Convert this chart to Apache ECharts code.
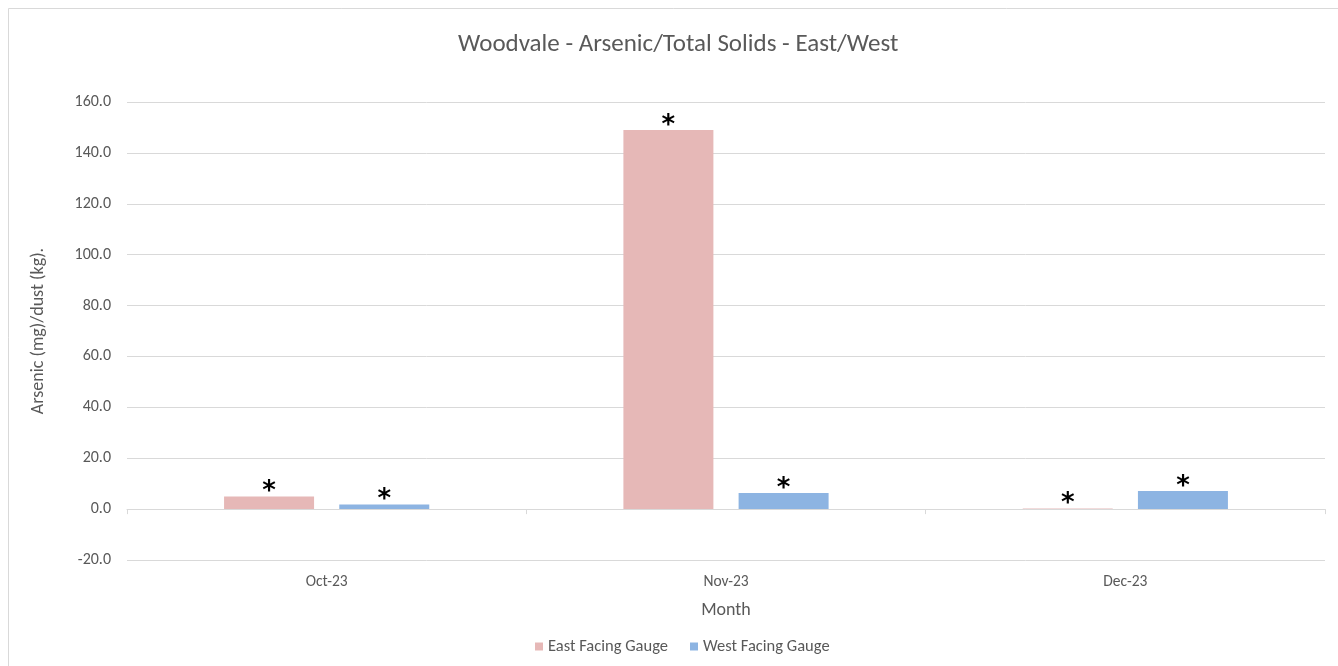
<!DOCTYPE html>
<html>
<head>
<meta charset="utf-8">
<script src="https://cdn.jsdelivr.net/npm/echarts@6/dist/echarts.min.js"></script>
<style>
  html, body { margin: 0; padding: 0; background: #fff; }
  #chart { width: 1338px; height: 666px; }
</style>
</head>
<body>
<div id="chart"></div>
<script>
// Monthly arsenic per dust mass for the two gauges
var months = ['Oct-23', 'Nov-23', 'Dec-23'];
var eastFacing = [5.0, 149.0, 0.2];
var westFacing = [1.8, 6.3, 7.1];
var yTicks = { min: -20, max: 160, interval: 20 };

var FONT = 'Calibri, Carlito, "Open Sans", "Noto Sans", sans-serif';
var chart = echarts.init(document.getElementById('chart'), null, { renderer: 'canvas' });

var starLabel = {
  show: true,
  position: 'top',
  distance: -9,
  formatter: '*',
  color: '#000',
  fontSize: 26,
  fontWeight: 'bold',
  fontFamily: 'DejaVu Sans, sans-serif'
};

chart.setOption({
  backgroundColor: '#fff',
  animation: false,
  graphic: [{
    type: 'rect',
    shape: { x: 8.5, y: 8.5, width: 1340, height: 680 },
    style: { fill: 'none', stroke: '#d9d9d9', lineWidth: 1 },
    silent: true
  }],
  title: {
    text: 'Woodvale - Arsenic/Total Solids - East/West',
    left: 453,
    top: 27,
    textStyle: { fontFamily: FONT, fontSize: 25, fontWeight: 'normal', color: '#595959' }
  },
  legend: {
    bottom: 6,
    left: 530,
    itemWidth: 8,
    itemHeight: 8,
    itemGap: 22,
    icon: 'rect',
    textStyle: { fontFamily: FONT, fontSize: 16.5, color: '#595959' },
    data: ['East Facing Gauge', 'West Facing Gauge']
  },
  grid: { left: 127, right: 13, top: 102, bottom: 106 },
  xAxis: [{
    type: 'category',
    data: months,
    name: 'Month',
    nameLocation: 'middle',
    nameGap: 41,
    nameTextStyle: { fontFamily: FONT, fontSize: 18, color: '#595959' },
    axisLine: { show: false, onZero: false },
    axisTick: { show: false },
    axisLabel: { fontFamily: FONT, fontSize: 15.5, color: '#595959', margin: 14 }
  }, {
    // zero line with category separator ticks
    type: 'category',
    data: months,
    position: 'bottom',
    axisLine: { show: true, onZero: true, lineStyle: { color: '#d9d9d9', width: 1 } },
    axisTick: { show: true, inside: false, length: 5, lineStyle: { color: '#d9d9d9' } },
    axisLabel: { show: false }
  }],
  yAxis: {
    type: 'value',
    min: yTicks.min,
    max: yTicks.max,
    interval: yTicks.interval,
    name: 'Arsenic (mg)/dust (kg).',
    nameLocation: 'middle',
    nameGap: 80,
    nameTextStyle: { fontFamily: FONT, fontSize: 18, color: '#595959' },
    axisLine: { show: false },
    axisTick: { show: false },
    axisLabel: {
      fontFamily: FONT, fontSize: 16, color: '#595959', margin: 16,
      formatter: function (v) { return v.toFixed(1); }
    },
    splitLine: { lineStyle: { color: '#d9d9d9', width: 1 } }
  },
  series: [{
    name: 'East Facing Gauge',
    type: 'bar',
    data: eastFacing,
    barWidth: 90,
    barGap: '28%',
    itemStyle: { color: '#E6B8B7' },
    label: starLabel
  }, {
    name: 'West Facing Gauge',
    type: 'bar',
    data: westFacing,
    barWidth: 90,
    barGap: '28%',
    itemStyle: { color: '#8DB4E2' },
    label: starLabel
  }]
});
</script>
</body>
</html>
